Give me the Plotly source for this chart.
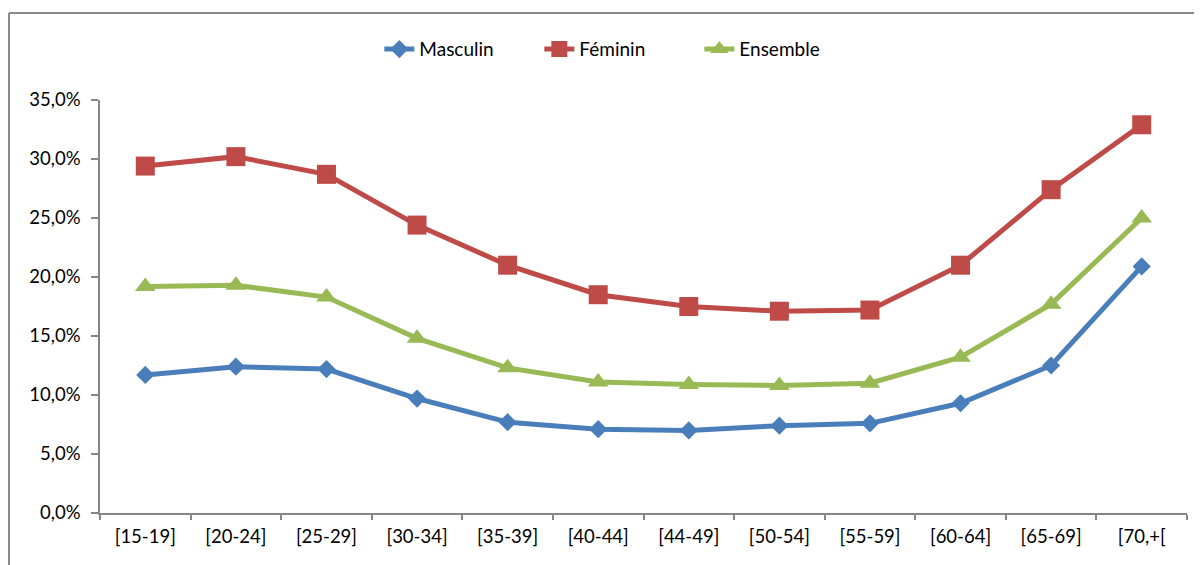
import plotly.graph_objects as go

categories = ["[15-19]", "[20-24]", "[25-29]", "[30-34]", "[35-39]", "[40-44]",
              "[44-49]", "[50-54]", "[55-59]", "[60-64]", "[65-69]", "[70,+["]
masculin = [11.7, 12.4, 12.2, 9.7, 7.7, 7.1, 7.0, 7.4, 7.6, 9.3, 12.5, 20.9]
feminin = [29.4, 30.2, 28.7, 24.4, 21.0, 18.5, 17.5, 17.1, 17.2, 21.0, 27.4, 32.9]
ensemble = [19.2, 19.3, 18.3, 14.8, 12.3, 11.1, 10.9, 10.8, 11.0, 13.2, 17.7, 25.0]
y_ticks = [0, 5, 10, 15, 20, 25, 30, 35]
y_tick_labels = ["0,0%", "5,0%", "10,0%", "15,0%", "20,0%", "25,0%", "30,0%", "35,0%"]

BLUE = "#4A7EBB"
RED = "#BE4B48"
GREEN = "#98B954"
FONT = "Lato"

fig = go.Figure()
fig.add_trace(go.Scatter(x=categories, y=masculin, name="Masculin", mode="lines+markers",
                         line=dict(color=BLUE, width=5),
                         marker=dict(symbol="diamond", size=14, color=BLUE)))
fig.add_trace(go.Scatter(x=categories, y=feminin, name="Féminin", mode="lines+markers",
                         line=dict(color=RED, width=5),
                         marker=dict(symbol="square", size=19, color=RED)))
fig.add_trace(go.Scatter(x=categories, y=ensemble, name="Ensemble", mode="lines+markers",
                         line=dict(color=GREEN, width=5),
                         marker=dict(symbol="triangle-up", size=18, color=GREEN)))

fig.update_layout(
    width=1194, height=557,
    margin=dict(l=92, r=15, t=92, b=52, autoexpand=False),
    paper_bgcolor="white", plot_bgcolor="white",
    font=dict(family=FONT, size=19, color="#000000"),
    showlegend=True,
    legend=dict(orientation="h", xref="container", yref="container",
                x=0.311, xanchor="left", y=0.926, yanchor="middle",
                entrywidth=115, entrywidthmode="pixels",
                font=dict(size=19, family=FONT), bgcolor="rgba(0,0,0,0)"),
    xaxis=dict(type="category", range=[-0.5, 11.5], showgrid=False, showline=True,
               linecolor="#868686", linewidth=1.5, ticks="outside", tickson="boundaries",
               ticklen=5, tickcolor="#868686", tickwidth=1.5, automargin=False,
               tickfont=dict(size=18.5, family=FONT), ticklabelstandoff=6),
    yaxis=dict(range=[0, 35], tickvals=y_ticks, ticktext=y_tick_labels,
               showgrid=False, showline=True, linecolor="#868686", linewidth=1.5,
               ticks="outside", ticklen=7, tickcolor="#868686", tickwidth=1.5, automargin=False,
               tickfont=dict(size=18.5, family=FONT), ticklabelstandoff=7, zeroline=False),
    shapes=[
        dict(type="line", xref="paper", yref="paper", x0=-0.0837, x1=1.02, y0=1.2105, y1=1.2105,
             line=dict(color="#8A8A8A", width=2)),
        dict(type="line", xref="paper", yref="paper", x0=-0.0837, x1=-0.0837, y0=1.2105, y1=-0.2,
             line=dict(color="#8A8A8A", width=2)),
    ],
)

fig.write_html("out.html")
